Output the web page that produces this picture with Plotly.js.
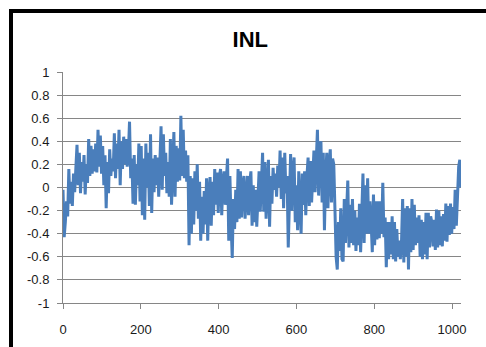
<!DOCTYPE html>
<html>
<head>
<meta charset="utf-8">
<script src="https://cdn.plot.ly/plotly-3.0.1.min.js"></script>
<style>
html,body{margin:0;padding:0;overflow:hidden;background:#fff;width:486px;height:347px;}
#chart{position:absolute;left:0;top:0;width:486px;height:347px;}
#frame{position:absolute;left:9px;top:9px;width:600px;height:600px;border:4px solid #000;pointer-events:none;}
</style>
</head>
<body>
<div id="chart"></div>
<div id="frame"></div>
<script>
// INL samples, one value every 3 codes (code 0 .. 1023)
const inl = [
-0.02,-0.43,-0.30,-0.12,-0.25,0.16,-0.14,0.05,-0.16,0.12,
-0.04,0.17,0.37,0.02,0.30,-0.05,0.22,0.05,0.28,-0.06,
0.20,0.04,0.42,0.10,0.36,0.12,0.33,0.14,0.38,0.13,
0.50,0.18,0.45,0.12,0.36,0.02,0.28,-0.18,0.22,-0.05,
0.33,0.10,0.25,0.14,0.47,0.08,0.38,0.16,0.50,0.02,
0.40,0.16,0.44,0.20,0.42,0.18,0.30,0.57,0.08,0.25,
-0.14,0.28,-0.15,0.20,0.02,0.38,-0.12,0.36,-0.24,0.25,
-0.28,0.38,0.00,0.30,-0.16,0.46,-0.22,0.25,-0.04,0.28,
0.02,0.26,-0.08,0.22,0.53,-0.02,0.46,0.10,0.30,-0.05,
0.22,-0.08,0.42,-0.15,0.30,0.48,-0.08,0.36,0.05,0.34,
0.06,0.62,0.10,0.50,0.08,0.32,0.05,0.28,-0.50,0.10,
-0.40,0.08,-0.32,0.14,-0.20,0.20,-0.27,0.05,-0.46,-0.08,
-0.40,-0.03,-0.32,0.08,-0.46,-0.05,0.09,-0.33,0.05,-0.24,
0.16,-0.15,0.13,-0.22,0.10,0.16,-0.24,0.05,0.14,-0.15,
0.08,0.25,-0.46,0.10,-0.30,-0.61,-0.10,-0.36,-0.02,-0.30,
0.16,-0.27,0.14,-0.26,0.02,0.10,-0.27,0.00,0.10,-0.24,
0.05,0.14,-0.33,0.02,-0.30,-0.02,-0.34,-0.10,0.14,-0.21,
0.02,0.30,-0.21,0.22,-0.27,0.05,0.24,-0.34,0.10,-0.14,
0.17,-0.02,0.12,-0.08,0.19,0.00,0.32,-0.10,0.26,-0.18,
0.30,-0.05,0.10,-0.52,-0.10,0.29,-0.20,0.14,0.26,-0.30,
0.02,-0.37,0.14,-0.10,-0.40,0.12,-0.15,0.14,-0.24,0.10,
0.26,-0.16,0.23,-0.13,0.10,0.32,-0.04,0.20,0.50,-0.07,
0.35,0.40,-0.13,0.30,-0.37,0.10,0.30,-0.18,0.20,0.33,
-0.13,0.25,0.20,-0.19,-0.60,-0.71,-0.30,-0.55,-0.18,-0.62,
-0.64,-0.10,-0.48,-0.20,0.06,-0.52,-0.15,-0.48,-0.10,-0.50,
-0.20,-0.55,-0.26,-0.50,-0.14,-0.56,-0.10,0.12,-0.48,0.02,
-0.40,0.08,-0.40,-0.12,-0.30,-0.56,-0.06,-0.50,-0.12,-0.45,
-0.12,-0.44,-0.12,-0.40,0.04,-0.43,-0.26,-0.69,-0.30,-0.62,
-0.30,-0.58,-0.25,-0.62,-0.30,-0.64,-0.36,-0.60,-0.46,-0.62,
-0.48,-0.10,-0.65,-0.18,-0.60,-0.16,-0.71,-0.18,-0.56,-0.10,
-0.54,-0.15,-0.50,-0.26,-0.48,-0.24,-0.60,-0.28,-0.62,-0.30,
-0.58,-0.22,-0.62,-0.22,-0.52,-0.25,-0.30,-0.51,-0.28,-0.54,
-0.19,-0.52,-0.20,-0.50,-0.25,-0.51,-0.23,-0.46,-0.14,-0.47,
-0.16,-0.41,-0.14,-0.40,-0.17,-0.36,-0.02,-0.33,-0.08,0.18,
0.24,0.00
];
const codeStep = 3;
const xTicks = [0, 200, 400, 600, 800, 1000];
const yTicks = [-1, -0.8, -0.6, -0.4, -0.2, 0, 0.2, 0.4, 0.6, 0.8, 1];
const yTickText = ['-1','-0.8','-0.6','-0.4','-0.2','0','0.2','0.4','0.6','0.8','1'];

const trace = {
  type: 'scatter', mode: 'lines',
  y: inl, x0: 0, dx: codeStep,
  line: {color: '#4A7EBB', width: 3},
  hoverinfo: 'skip'
};
const tickFont = {family: 'Liberation Sans, Arial, sans-serif', size: 13, color: '#1a1a1a'};
const layout = {
  width: 486, height: 347,
  margin: {l: 63, r: 25, t: 72, b: 44},
  paper_bgcolor: '#fff', plot_bgcolor: '#fff',
  showlegend: false,
  title: {text: '<b>INL</b>', x: 0.515, xanchor: 'center', y: 0.887, yanchor: 'middle',
          font: {family: 'Liberation Sans, Arial, sans-serif', size: 22, color: '#000'}},
  xaxis: {range: [0, 1023], tickvals: xTicks, ticktext: xTicks.map(String),
          showgrid: false, zeroline: false, showline: true, linecolor: '#868686', linewidth: 1,
          ticks: 'outside', ticklen: 5, tickcolor: '#868686', tickfont: tickFont, ticklabelstandoff: 9},
  yaxis: {range: [-1, 1], tickvals: yTicks, ticktext: yTickText,
          showgrid: true, gridcolor: '#868686', gridwidth: 1, zeroline: false,
          showline: true, linecolor: '#868686', linewidth: 1,
          ticks: 'outside', ticklen: 5, tickcolor: '#868686', tickfont: tickFont, ticklabelstandoff: 5}
};
Plotly.newPlot('chart', [trace], layout, {staticPlot: true, displayModeBar: false});
</script>
</body>
</html>
